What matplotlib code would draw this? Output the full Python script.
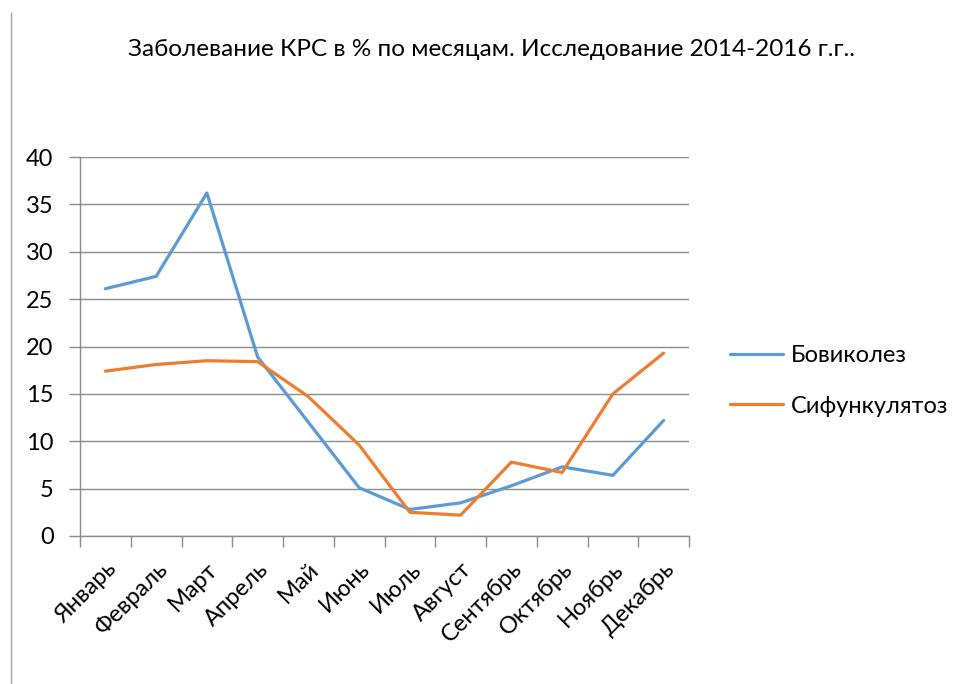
import matplotlib
matplotlib.use("Agg")
import matplotlib.pyplot as plt
from matplotlib.lines import Line2D
import numpy as np

months = ["Январь", "Февраль", "Март", "Апрель", "Май", "Июнь", "Июль",
          "Август", "Сентябрь", "Октябрь", "Ноябрь", "Декабрь"]
bovikolez = [26.1, 27.4, 36.2, 18.9, 12.0, 5.1, 2.8, 3.5, 5.3, 7.3, 6.4, 12.2]
sifunkulyatoz = [17.4, 18.1, 18.5, 18.4, 14.7, 9.6, 2.5, 2.2, 7.8, 6.7, 15.0, 19.3]
series_names = ["Бовиколез", "Сифункулятоз"]
yticks = [0, 5, 10, 15, 20, 25, 30, 35, 40]
title = "Заболевание КРС в % по месяцам. Исследование 2014-2016 г.г.."

plt.rcParams['font.family'] = ['Lato', 'DejaVu Sans']

W, H = 960, 684
fig = plt.figure(figsize=(W / 100, H / 100), dpi=100)
ax = fig.add_axes([80 / W, 1 - 536 / H, (689 - 80) / W, (536 - 157) / H])

x = np.arange(len(months))
blue = "#5B9BD5"
orange = "#ED7D31"
grid_c = "#8C8C8C"
ax.plot(x, bovikolez, color=blue, lw=2.3, solid_capstyle='round', label=series_names[0])
ax.plot(x, sifunkulyatoz, color=orange, lw=2.3, solid_capstyle='round', label=series_names[1])

ax.set_xlim(-0.5, len(months) - 0.5)
ax.set_ylim(0, 40)
ax.set_yticks(yticks)
ax.set_yticklabels([str(v) for v in yticks], fontsize=17)
ax.yaxis.grid(True, color=grid_c, lw=1)
ax.set_axisbelow(True)
ax.tick_params(axis='y', length=8, color=grid_c, width=1, pad=11)
ax.set_xticks(np.arange(-0.5, len(months) + 0.5, 1), minor=False)
ax.set_xticklabels([])
ax.set_xticks(x, minor=True)
ax.set_xticklabels(months, minor=True, rotation=45, ha='right', va='top',
                   rotation_mode='anchor', fontsize=17)
ax.tick_params(axis='x', which='major', length=8, color=grid_c, width=1)
ax.tick_params(axis='x', which='minor', length=0, pad=16)
for s in ['top', 'right']:
    ax.spines[s].set_visible(False)
for s in ['left', 'bottom']:
    ax.spines[s].set_color(grid_c)
    ax.spines[s].set_linewidth(1)

fig.text(491 / W, 1 - 50 / H, title, ha='center', va='center', fontsize=17.5)

leg = ax.legend(loc='center left', bbox_to_anchor=(709 / W, 1 - 381 / H),
                bbox_transform=fig.transFigure, frameon=False, fontsize=17,
                handlelength=2.25, labelspacing=1.25, handletextpad=0.3)

fig.add_artist(Line2D([11 / W, 11 / W], [0, 1 - 13 / H], transform=fig.transFigure,
                      color="#A6A6A6", lw=1))

fig.savefig("out.png", dpi=100)
